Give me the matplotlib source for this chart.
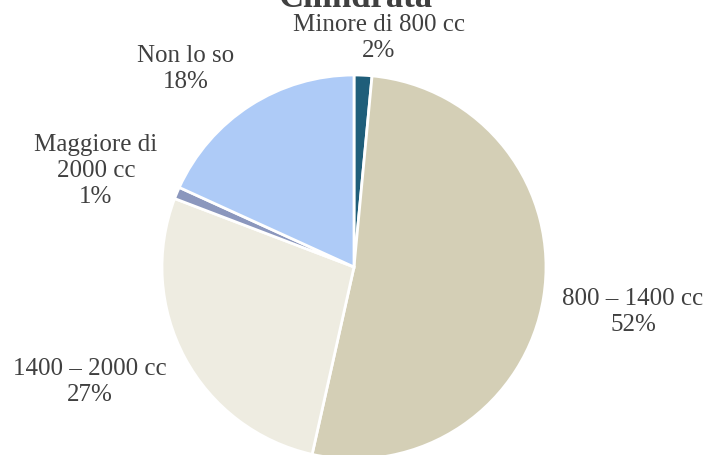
import matplotlib.pyplot as plt

# Dati
categorie = ['Minore di 800 cc', '800 – 1400 cc', '1400 – 2000 cc',
             'Maggiore di\n2000 cc', 'Non lo so']
valori = [1.5, 52.0, 27.3, 1.0, 18.2]
etichette_pct = ['2%', '52%', '27%', '1%', '18%']
colori = ['#1f5e7a', '#d4cfb6', '#eeece1', '#8b97bd', '#aecbf7']

plt.rcParams['font.family'] = ['Liberation Serif', 'DejaVu Serif']

fig = plt.figure(figsize=(7.07, 4.56), dpi=100)
ax = fig.add_axes([0, 0, 1, 1])

# Torta (centro e raggio in pixel)
ax.pie(valori, colors=colori, startangle=90, counterclock=False,
       center=(354, 456 - 268), radius=192,
       wedgeprops=dict(edgecolor='white', linewidth=2))

ax.set_xlim(0, 707)
ax.set_ylim(0, 456)
ax.set_aspect('equal')
ax.axis('off')

# Posizioni delle etichette (pixel, origine in alto a sinistra)
pos = [(379, 38), (633, 312), (90, 382), (96, 171), (186, 69)]
for nome, pct, (x, y) in zip(categorie, etichette_pct, pos):
    ax.text(x, 456 - y, nome + '\n' + pct, ha='center', va='center',
            fontsize=18, color='#404040', linespacing=1.25)

# Titolo (tagliato in alto come nell'originale)
fig.text(355 / 707, 1 - 7 / 456, 'Cilindrata', ha='center', va='baseline',
         fontsize=25, fontweight='bold', color='#404040')

fig.savefig('out.png', dpi=100)
